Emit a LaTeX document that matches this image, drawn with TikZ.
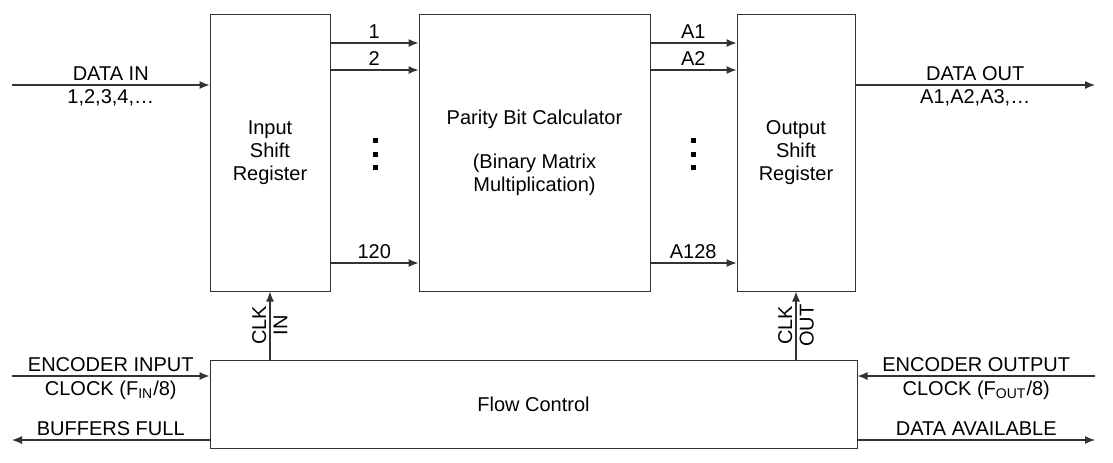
\documentclass[tikz,border=0pt]{standalone}
\usepackage{fontspec}
\setmainfont{Liberation Sans}
\usetikzlibrary{arrows.meta}
\usetikzlibrary{calc}
\tikzset{
  blk/.style={draw=black!80, line width=0.5pt, inner sep=0pt, align=center},
  sig/.style={draw=black!80, line width=0.6pt, -{Latex[length=5pt,width=4pt]}},
  lbl/.style={inner sep=2pt}
}
\newcommand{\busin}[2]{\coordinate (b#2) at (330,#1); \draw[sig] (b#2) -- (b#2 -| pbc.west) node[midway,above,lbl] {#2};}
\newcommand{\busout}[2]{\coordinate (a#2) at (650,#1); \draw[sig] (a#2) -- (a#2 -| osr.west) node[midway,above,lbl] {A#2};}
\newcommand{\vdotsq}[2]{\foreach \k in {0,1,2} {\fill (#1,#2+13.5*\k) rectangle ++(5,5);}}

\begin{document}
\begin{tikzpicture}[x=0.5pt, y=-0.5pt, font=\fontsize{10}{11.5}\selectfont]
        \useasboundingbox (0,0) rectangle (1113,462);

        % blocks
        \node[blk, minimum width=60pt, minimum height=138.5pt] (isr) at (270,152.5) {Input\\Shift\\Register};
        \node[blk, minimum width=115.5pt, minimum height=138.5pt] (pbc) at (534.5,152.5) {Parity Bit Calculator\\[10.5pt](Binary Matrix\\Multiplication)};
        \node[blk, minimum width=59pt, minimum height=138.5pt] (osr) at (796,152.5) {Output\\Shift\\Register};
        \node[blk, minimum width=323.5pt, minimum height=44pt] (flow) at (533.5,404) {Flow Control};

        % data in / out
        \coordinate (din) at (12,85);
        \draw[sig] (din) -- (din -| isr.west) node[midway,above,lbl] {DATA IN} node[midway,below,lbl] {1,2,3,4,…};
        \coordinate (dout) at (1095,85);
        \draw[sig] (dout -| osr.east) -- (dout) node[midway,above,lbl] {DATA OUT} node[midway,below,lbl] {A1,A2,A3,…};

        % buses
        \busin{43}{1}
        \busin{70}{2}
        \busin{263}{120}
        \busout{43}{1}
        \busout{70}{2}
        \busout{263}{128}
        \vdotsq{373}{138}
        \vdotsq{691}{138}

        % clocks
        \draw[sig] (flow.north -| isr.south) -- (isr.south)
            node[midway, rotate=90, anchor=south, inner sep=1.5pt] {CLK}
            node[midway, rotate=90, anchor=north, inner sep=1.5pt] {IN};
        \draw[sig] (flow.north -| osr.south) -- (osr.south)
            node[midway, rotate=90, anchor=south, inner sep=1.5pt] {CLK}
            node[midway, rotate=90, anchor=north, inner sep=1.5pt] {OUT};

        % flow control
        \coordinate (eci) at (12,376);
        \draw[sig] (eci) -- (eci -| flow.west) node[midway,above,lbl] {ENCODER INPUT} node[midway,below,lbl] {CLOCK (F\textsubscript{IN}/8)};
        \coordinate (bfl) at (12,440);
        \draw[sig] (bfl -| flow.west) -- (bfl) node[midway,above,lbl] {BUFFERS FULL};
        \coordinate (eco) at (1095,376);
        \draw[sig] (eco) -- (eco -| flow.east) node[midway,above,lbl] {ENCODER OUTPUT} node[midway,below,lbl] {CLOCK (F\textsubscript{OUT}/8)};
        \coordinate (dav) at (1095,440);
        \draw[sig] (dav -| flow.east) -- (dav) node[midway,above,lbl] {DATA AVAILABLE};

\end{tikzpicture}
\end{document}
